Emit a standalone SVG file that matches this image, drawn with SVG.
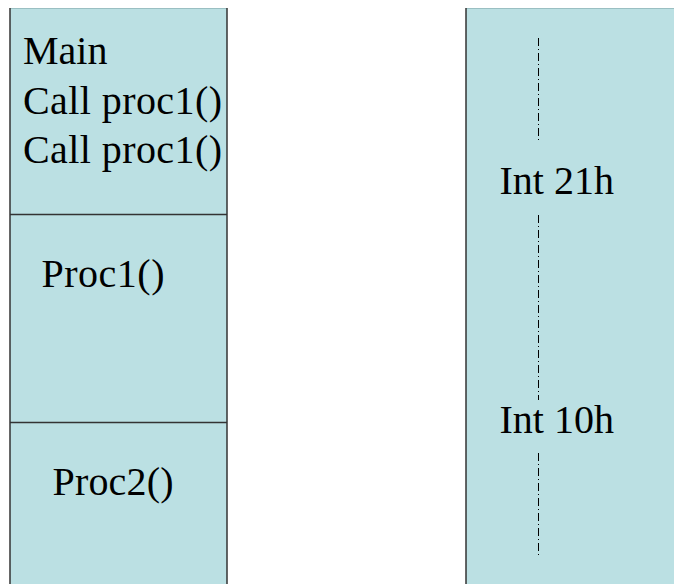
<svg xmlns="http://www.w3.org/2000/svg" width="674" height="584" viewBox="0 0 674 584">
  <style>
    .box { fill: #BBE0E3; stroke: none; }
    .edge { stroke: #333; stroke-width: 1.5; fill: none; }
    .top { stroke: #9ABFC2; stroke-width: 1; }
    .lbl { font-family: 'Liberation Serif', 'Times New Roman', Tinos, 'DejaVu Serif', serif; font-size: 40px; fill: #000; }
    .dd { stroke: #000; stroke-width: 1; stroke-dasharray: 8 3 1 3; fill: none; }
  </style>
  <rect width="674" height="584" fill="#fff"/>
  <g id="main">
    <rect class="box" x="10" y="8" width="217" height="207"/>
    <line class="top" x1="10" y1="8.5" x2="227" y2="8.5"/>
    <text class="lbl" x="23" y="64">Main</text>
    <text class="lbl" x="23" y="114" textLength="199">Call proc1()</text>
    <text class="lbl" x="23" y="163" textLength="199">Call proc1()</text>
  </g>
  <g id="proc1">
    <rect class="box" x="10" y="215" width="217" height="208"/>
    <text class="lbl" x="41.5" y="287" textLength="123">Proc1()</text>
  </g>
  <g id="proc2">
    <rect class="box" x="10" y="423" width="217" height="161"/>
    <text class="lbl" x="52.5" y="495" textLength="121">Proc2()</text>
  </g>
  <g id="left-edges">
    <line class="edge" x1="10" y1="8" x2="10" y2="584"/>
    <line class="edge" x1="227" y1="8" x2="227" y2="584"/>
    <line class="edge" x1="10" y1="214.5" x2="227" y2="214.5"/>
    <line class="edge" x1="10" y1="422.5" x2="227" y2="422.5"/>
  </g>
  <g id="interrupts">
    <rect class="box" x="466" y="8" width="208" height="576"/>
    <line class="top" x1="466" y1="8.5" x2="674" y2="8.5"/>
    <line class="edge" x1="466" y1="8" x2="466" y2="584"/>
    <text class="lbl" x="499.5" y="194">Int 21h</text>
    <text class="lbl" x="499.5" y="433">Int 10h</text>
  </g>
  <g id="connectors">
    <line class="dd" x1="538.5" y1="38" x2="538.5" y2="141"/>
    <line class="dd" x1="538.5" y1="215" x2="538.5" y2="400"/>
    <line class="dd" x1="538.5" y1="453" x2="538.5" y2="557"/>
  </g>
</svg>
